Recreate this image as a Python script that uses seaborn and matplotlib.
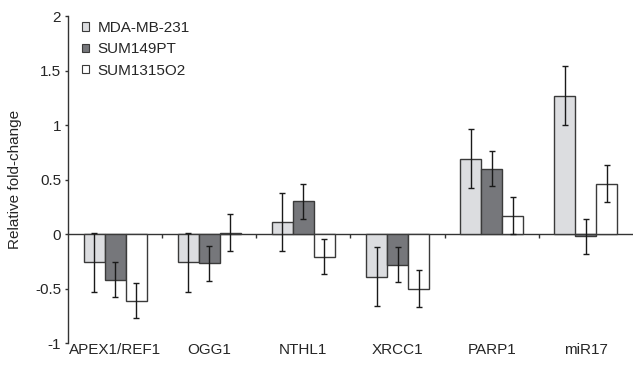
import matplotlib
matplotlib.use("Agg")
import matplotlib.pyplot as plt
import numpy as np
import pandas as pd
import seaborn as sns

genes = ["APEX1/REF1", "OGG1", "NTHL1", "XRCC1", "PARP1", "miR17"]
lines = ["MDA-MB-231", "SUM149PT", "SUM1315O2"]

mda_mean = [-0.26, -0.26, 0.11, -0.39, 0.69, 1.27]
mda_err = [0.27, 0.27, 0.27, 0.27, 0.27, 0.27]
sum149_mean = [-0.42, -0.27, 0.30, -0.28, 0.60, -0.02]
sum149_err = [0.16, 0.16, 0.16, 0.16, 0.16, 0.16]
sum1315_mean = [-0.61, 0.01, -0.21, -0.50, 0.17, 0.46]
sum1315_err = [0.16, 0.17, 0.16, 0.17, 0.17, 0.17]

colors = ["#dcdde0", "#76777b", "#ffffff"]

df = pd.DataFrame({
    "gene": genes * 3,
    "line": [l for l in lines for _ in genes],
    "value": mda_mean + sum149_mean + sum1315_mean,
    "err": mda_err + sum149_err + sum1315_err,
})

sns.set_style("white")
plt.rcParams["font.family"] = ["Liberation Sans", "DejaVu Sans"]

fig = plt.figure(figsize=(6.33, 3.66), dpi=100)
ax = fig.add_axes([0.1074, 0.0628, 0.8926, 0.8932])

sns.barplot(data=df, x="gene", y="value", hue="line", order=genes,
            hue_order=lines, palette=colors, errorbar=None, width=0.67,
            edgecolor="#3a3a3a", linewidth=1.0, saturation=1, ax=ax)

for cont, line in zip(ax.containers, lines):
    sub = df[df["line"] == line].set_index("gene").loc[genes]
    xs = [p.get_x() + p.get_width() / 2 for p in cont.patches]
    ax.errorbar(xs, sub["value"], yerr=sub["err"], fmt="none",
                ecolor="#1a1a1a", elinewidth=1.0, capsize=2, capthick=1.0,
                zorder=5)

ax.set_xlim(-0.5, 5.5)
ax.set_ylim(-1, 2)
ax.set_yticks([-1, -0.5, 0, 0.5, 1, 1.5, 2])
ax.set_yticklabels(["-1", "-0.5", "0", "0.5", "1", "1.5", "2"])
ax.tick_params(axis="y", direction="out", length=2, width=1, color="#333333",
               labelsize=11, pad=3, left=True)
ax.tick_params(axis="x", length=0, labelsize=11, pad=0)
ax.set_xlabel("")
ax.set_ylabel("Relative fold-change", fontsize=11, labelpad=9)

for side in ["top", "right", "bottom"]:
    ax.spines[side].set_visible(False)
ax.spines["left"].set_color("#333333")
ax.spines["left"].set_linewidth(1.0)

# zero baseline with separators between gene groups
zero_axis = ax.secondary_xaxis(1 / 3)
zero_axis.spines["bottom"].set_color("#333333")
zero_axis.spines["bottom"].set_linewidth(1.0)
zero_axis.set_xticks(np.arange(0.5, len(genes) - 0.5, 1.0))
zero_axis.tick_params(direction="out", length=3, width=1, color="#333333",
                      labelbottom=False)

handles = [plt.Rectangle((0, 0), 1, 1, facecolor=c, edgecolor="#3a3a3a",
                         linewidth=0.8) for c in colors]
ax.legend(handles, lines, loc="upper left", bbox_to_anchor=(0.008, 1.013),
          frameon=False, fontsize=11, handlelength=0.45, handleheight=0.45,
          handletextpad=0.6, labelspacing=0.48, borderaxespad=0.2)

fig.savefig("out.png", dpi=100)
